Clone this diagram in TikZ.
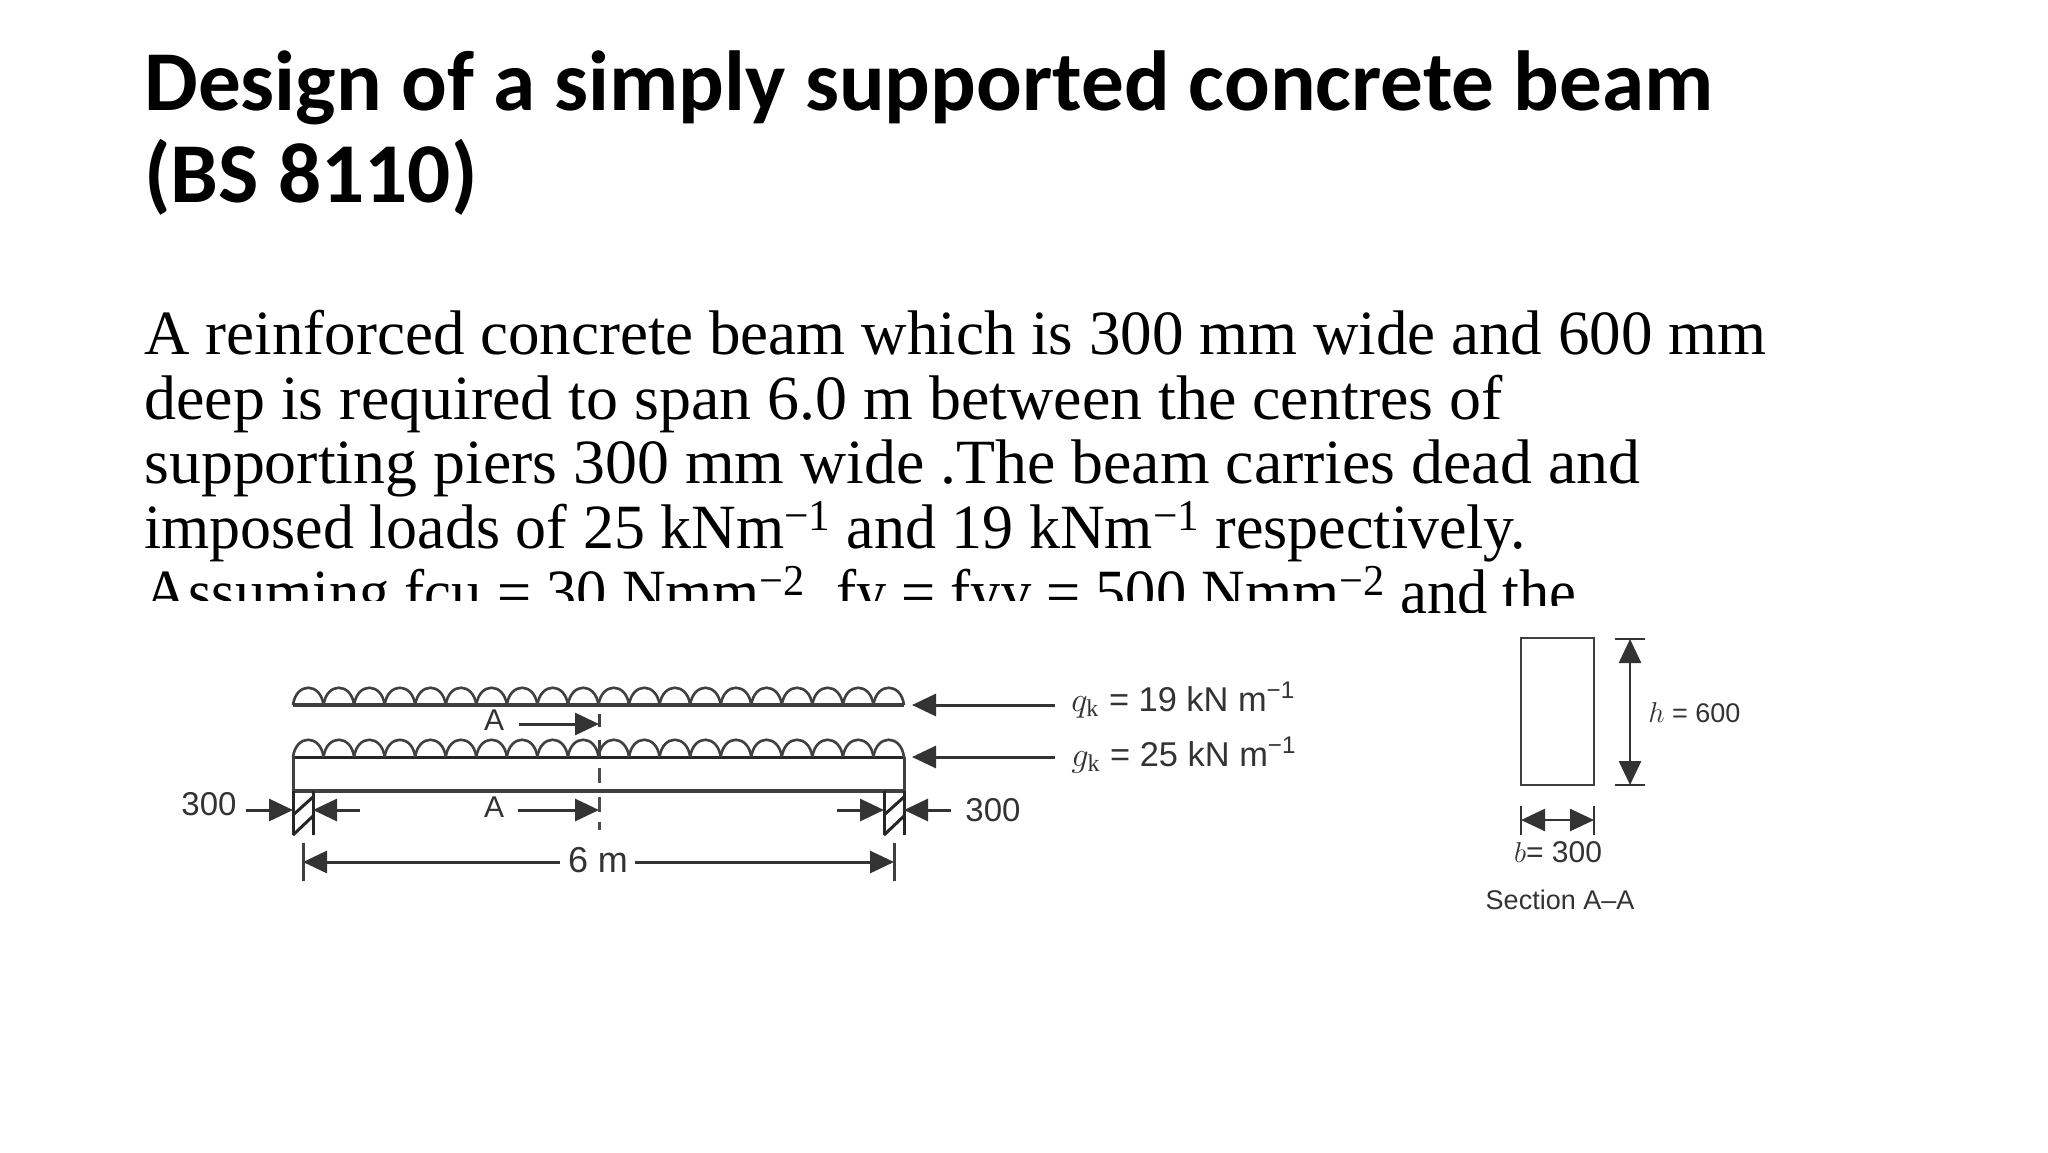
\documentclass[tikz,border=0pt]{standalone}
\usepackage{graphicx}
\usepackage{fontspec}
\setmainfont{Liberation Serif}
\newfontfamily\titlefont{Carlito}
\newfontfamily\figfont{Liberation Sans}
\usetikzlibrary{arrows.meta}
\tikzset{
	dimtip/.style={-{Triangle[length=12pt,width=11pt]}},
	dimboth/.style={{Triangle[length=12pt,width=11pt]}-{Triangle[length=12pt,width=11pt]}},
	figlabel/.style={inner sep=0pt,text=black!80,font=\figfont\fontsize{18}{20}\selectfont},
	seclabel/.style={inner sep=0pt,text=black!80,font=\figfont\fontsize{13.5}{15}\selectfont}
}
\begin{document}
\begin{tikzpicture}[x=0.5pt,y=-0.5pt]
	\useasboundingbox (0,0) rectangle (2048,1152);

	% slide text
	\node (title) [anchor=north west,inner sep=0pt,align=left,font=\titlefont\bfseries\fontsize{42.6}{46.4}\selectfont] at (144,50) {Design of a simply supported concrete beam\\(BS 8110)};
	\node (body) [anchor=north west,inner sep=0pt,align=left,font=\fontsize{31.5}{32.3}\selectfont] at (144,310) {A reinforced concrete beam which is 300 mm wide and 600 mm\\\scalebox{1.015}[1]{deep is required to span 6.0 m between the centres of}\\\scalebox{1.013}[1]{supporting piers 300 mm wide .The beam carries dead and}\\\scalebox{.983}[1]{imposed loads of 25 kNm\textsuperscript{−1} and 19 kNm\textsuperscript{−1} respectively.}\\\scalebox{.96}[1]{Assuming fcu = 30 Nmm\textsuperscript{−2}\ \ fy = fyv = 500 Nmm\textsuperscript{−2} and the}};
	\fill [white] (0,601) -- (1385,601) -- (1385,613) -- (1490,613) -- (1490,606) -- (2048,606) -- (2048,1152) -- (0,1152) -- cycle;

	% loads
	\draw [line width=2pt,black!75] (293,705) -- (904,705);
	\draw [line width=1.5pt,black!85] (293,757) -- (904,757);
	\foreach \i in {0,...,19}{
		\pgfmathsetmacro{\xa}{293+30.55*\i}
		\pgfmathsetmacro{\xb}{\xa+30.55}
		\draw [line width=1.3pt,black!75] (\xa,705) .. controls (\xa+3,682) and (\xb-3,682) .. (\xb,705);
		\draw [line width=1.3pt,black!75] (\xa,757) .. controls (\xa+3,734) and (\xb-3,734) .. (\xb,757);
	}

	% beam
	\draw [line width=1.5pt,black!75] (293,757) -- (293,791);
	\draw [line width=1.5pt,black!75] (904,757) -- (904,791);
	\draw [line width=2pt,black!75] (293,791) -- (904,791);

	% supports
	\foreach \x in {293,884}{
		\draw [line width=1.5pt,black!85] (\x,791) -- (\x,835);
		\draw [line width=1.5pt,black!85] (\x+20,791) -- (\x+20,835);
		\draw [line width=1.5pt,black!85] (\x,815) -- (\x+20,797);
		\draw [line width=1.5pt,black!85] (\x,835) -- (\x+20,816);
	}

	% section mark
	\draw [line width=1.5pt,black!75] (599,740) -- (599,757);
	\draw [line width=1.5pt,black!75] (599,714) -- (599,727);
	\draw [line width=1.5pt,black!70] (599,768) -- (599,783);
	\draw [line width=1.5pt,black!70] (599,797) -- (599,812);
	\draw [line width=1.5pt,black!70] (599,822) -- (599,830);

	% labels
	\node (atop) [figlabel,font=\figfont\fontsize{15}{17}\selectfont] at (494,720) {A};
	\node (abot) [figlabel,font=\figfont\fontsize{15}{17}\selectfont] at (494,807) {A};
	\node (suplabel) [figlabel,font=\figfont\fontsize{16.5}{18}\selectfont] at (209,804) {300};
	\node (suprlabel) [figlabel,font=\figfont\fontsize{16.5}{18}\selectfont] at (993,810) {300};
	\node (span) [figlabel] at (598,860) {6 m};
	\node (qlabel) [figlabel,anchor=base west,font=\figfont\fontsize{17.2}{19}\selectfont] at (1071,711) {$q_{\mathrm{k}}$ = 19 kN m\textsuperscript{−1}};
	\node (glabel) [figlabel,anchor=base west,font=\figfont\fontsize{17.2}{19}\selectfont] at (1071,766) {$g_{\mathrm{k}}$ = 25 kN m\textsuperscript{−1}};

	% free ends of the arrows
	\coordinate (atail) at (519,724);
	\coordinate (atip) at (599,724);
	\coordinate (btail) at (518,810);
	\coordinate (btip) at (599,810);
	\coordinate (qtail) at (1055,705);
	\coordinate (qtip) at (912,705);
	\coordinate (gtail) at (1055,757);
	\coordinate (gtip) at (912,757);
	\coordinate (ltail) at (246,810);
	\coordinate (ltip) at (293,810);
	\coordinate (mtail) at (360,810);
	\coordinate (mtip) at (313,810);
	\coordinate (ntail) at (837,810);
	\coordinate (ntip) at (884,810);
	\coordinate (otail) at (951,810);
	\coordinate (otip) at (904,810);
	\coordinate (spanl) at (303,862);
	\coordinate (spanr) at (894,862);
	\coordinate (spanla) at (560,862);
	\coordinate (spanra) at (635,862);

	\begin{scope}[every edge/.style={draw=black!80,line width=1.5pt}]
		\path [dimtip] (atail) edge (atip);
		\path [dimtip] (btail) edge (btip);
		\path [dimtip] (qtail) edge (qtip);
		\path [dimtip] (gtail) edge (gtip);
		\path [dimtip] (ltail) edge (ltip);
		\path [dimtip] (mtail) edge (mtip);
		\path [dimtip] (ntail) edge (ntip);
		\path [dimtip] (otail) edge (otip);
		\path [dimtip] (spanla) edge (spanl);
		\path [dimtip] (spanra) edge (spanr);
	\end{scope}
	\draw [line width=1.5pt,black!75] (303,843) -- (303,881);
	\draw [line width=1.5pt,black!75] (894,843) -- (894,881);

	% section A-A
	\node (section) [draw=black!75,line width=1.3pt,minimum width=36.5pt,minimum height=73.5pt,inner sep=0pt] at (1557.5,711.5) {};
	\coordinate (htop) at (1630,639);
	\coordinate (hbot) at (1630,785);
	\coordinate (bleft) at (1521,820);
	\coordinate (bright) at (1594,820);
	\begin{scope}[every edge/.style={draw=black!80,line width=1.3pt}]
		\path [dimboth] (htop) edge (hbot);
		\path [dimboth] (bleft) edge (bright);
	\end{scope}
	\draw [line width=1.3pt,black!80] (1615,639) -- (1645,639);
	\draw [line width=1.3pt,black!80] (1615,785) -- (1645,785);
	\draw [line width=1.3pt,black!80] (1521,806) -- (1521,835);
	\draw [line width=1.3pt,black!80] (1594,806) -- (1594,835);
	\node (hlabel) [seclabel,anchor=west] at (1648,713) {$h$ = 600};
	\node (blabel) [seclabel,font=\figfont\fontsize{15}{17}\selectfont] at (1558,852) {$b$= 300};
	\node (seccaption) [seclabel] at (1560,900) {Section A–A};
\end{tikzpicture}
\end{document}
